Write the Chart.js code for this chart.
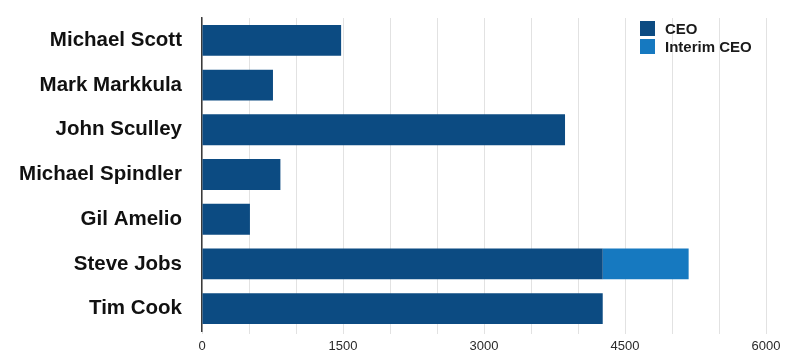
<!DOCTYPE html>
<html>
<head>
<meta charset="utf-8">
<script src="https://cdn.jsdelivr.net/npm/chart.js@4"></script>
<style>
  html, body { margin: 0; padding: 0; background: #ffffff; }
  #wrap { position: relative; width: 800px; height: 360px; }
  #legend { position: absolute; left: 640px; top: 19px; font-family: "Liberation Sans", Arial, sans-serif; font-weight: bold; font-size: 15px; color: #1a1a1a; }
  .item { display: flex; align-items: center; height: 18px; }
  .sw { width: 15px; height: 15px; margin-right: 10px; }
</style>
</head>
<body>
<div id="wrap">
  <canvas id="c" width="800" height="360"></canvas>
  <div id="legend"></div>
</div>
<script>
const categories = ["Michael Scott", "Mark Markkula", "John Sculley", "Michael Spindler", "Gil Amelio", "Steve Jobs", "Tim Cook"];
const ceoDays = [1480, 755, 3862, 834, 510, 4263, 4263];
const interimDays = [0, 0, 0, 0, 0, 914, 0];
const seriesNames = ["CEO", "Interim CEO"];
const seriesColors = ["#0c4b82", "#1679c0"];
const xTickLabels = [0, 1500, 3000, 4500, 6000];

const datasets = [
  { label: seriesNames[0], data: ceoDays, backgroundColor: seriesColors[0] },
  { label: seriesNames[1], data: interimDays, backgroundColor: seriesColors[1] }
];

new Chart(document.getElementById('c'), {
  type: 'bar',
  data: { labels: categories, datasets: datasets.map(d => Object.assign({
    borderWidth: 0, categoryPercentage: 1, barPercentage: 0.69
  }, d)) },
  options: {
    indexAxis: 'y',
    responsive: false,
    devicePixelRatio: 1,
    animation: false,
    layout: { padding: { top: 18, right: 34, bottom: 0, left: 0 } },
    plugins: { legend: { display: false }, tooltip: { enabled: false } },
    scales: {
      x: {
        stacked: true,
        min: 0, max: 6000,
        ticks: {
          stepSize: 500,
          autoSkip: false,
          maxRotation: 0,
          padding: 5,
          color: '#2a2a2a',
          font: { family: '"Liberation Sans", Arial, sans-serif', size: 13 },
          callback: v => xTickLabels.includes(v) ? String(v) : ''
        },
        grid: { color: '#e2e2e2', lineWidth: 1, tickLength: 3 },
        border: { display: false },
        afterFit: s => { s.height = 29; s.paddingLeft = 0; s.paddingRight = 0; }
      },
      y: {
        stacked: true,
        ticks: {
          padding: 20,
          color: '#111111',
          font: { family: '"Liberation Sans", Arial, sans-serif', size: 20.5, weight: 'bold' }
        },
        grid: { display: false, drawTicks: false },
        border: { display: true, color: '#3a3a3a', width: 1.5 },
        afterFit: s => { s.width = 202; s.paddingTop = 0; s.paddingBottom = 0; }
      }
    }
  }
});

const leg = document.getElementById('legend');
datasets.forEach(d => {
  const it = document.createElement('div');
  it.className = 'item';
  const sw = document.createElement('span');
  sw.className = 'sw';
  sw.style.background = d.backgroundColor;
  const tx = document.createElement('span');
  tx.textContent = d.label;
  it.appendChild(sw); it.appendChild(tx);
  leg.appendChild(it);
});
</script>
</body>
</html>
